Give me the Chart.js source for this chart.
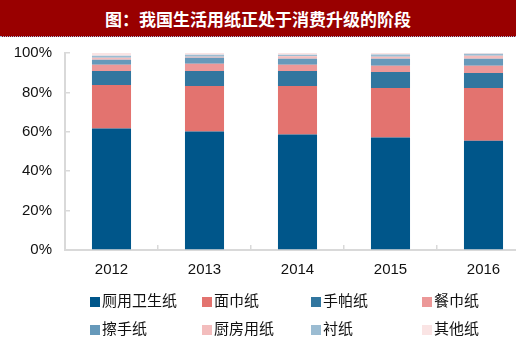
<!DOCTYPE html>
<html>
<head>
<meta charset="utf-8">
<script src="https://cdn.jsdelivr.net/npm/chart.js@4"></script>
<style>
  html, body { margin: 0; padding: 0; background: #fff; overflow: hidden; }
  #wrap { position: relative; width: 516px; height: 342px; overflow: hidden; }
  #title {
    position: absolute; left: 0; top: 0; width: 516px; height: 36px;
    background: #990000; color: #fff; border-bottom: 1px dotted #9fb6dc;
    font: bold 17px "Noto Sans CJK SC", sans-serif; line-height: 37px; text-align: center;
  }
  #chart { position: absolute; left: 0; top: 0; }
  .lg { position: absolute; font: 15px "Noto Sans CJK SC", sans-serif; color: #111; line-height: 16px; white-space: nowrap; }
  .lg i { display: inline-block; width: 10px; height: 10px; margin-right: 2px; vertical-align: -1px; }
</style>
</head>
<body>
<div id="wrap">
  <canvas id="chart" width="540" height="342"></canvas>
  <div id="title">图：我国生活用纸正处于消费升级的阶段</div>
  <div id="legend"></div>
</div>
<script>
// 年份
const years = ['2012', '2013', '2014', '2015', '2016'];
// 各品类占比 (%)
const names = ['厕用卫生纸', '面巾纸', '手帕纸', '餐巾纸', '擦手纸', '厨房用纸', '衬纸', '其他纸'];
const toilet = [61.7, 60.1, 58.6, 57.1, 55.5];
const facial = [22.0, 23.1, 24.6, 25.1, 26.7];
const hanky = [7.2, 7.7, 7.7, 8.2, 7.7];
const napkin = [3.1, 3.6, 3.1, 3.1, 3.6];
const handTowel = [2.6, 3.1, 3.1, 3.6, 3.6];
const kitchen = [1.0, 0.5, 1.2, 1.0, 1.5];
const liner = [1.0, 1.0, 0.8, 1.2, 1.0];
const other = [1.4, 0.9, 0.9, 0.7, 0.4];
const colors = ['#00568a', '#e3736f', '#31769f', '#ec9898', '#6699ba', '#f3bdbd', '#9bbcd2', '#fae4e4'];
const yTicks = [0, 20, 40, 60, 80, 100];

const series = [toilet, facial, hanky, napkin, handTowel, kitchen, liner, other];
const axisColor = '#d9d9d9';

new Chart(document.getElementById('chart').getContext('2d'), {
    type: 'bar',
    data: {
        labels: years,
        datasets: series.map((d, i) => ({
            label: names[i],
            data: d,
            backgroundColor: colors[i],
            borderWidth: 0,
            barPercentage: 0.42,
            categoryPercentage: 1
        }))
    },
    options: {
        responsive: false,
        animation: false,
        layout: { padding: { top: 53, left: 0, right: 10, bottom: 0 } },
        plugins: { legend: { display: false }, tooltip: { enabled: false } },
        scales: {
            x: {
                stacked: true,
                border: { color: axisColor, width: 2 },
                grid: { drawOnChartArea: false, color: axisColor, tickLength: -5, lineWidth: 1.5 },
                ticks: { color: '#111', padding: 16, font: { family: 'Liberation Sans, Arial', size: 15 } },
                afterFit: s => { s.height = 92; }
            },
            y: {
                stacked: true,
                min: 0, max: 100,
                afterBuildTicks: s => { s.ticks = yTicks.map(v => ({ value: v })); },
                border: { color: axisColor, width: 2 },
                grid: { drawOnChartArea: false, color: axisColor, tickLength: -5, lineWidth: 1.5 },
                ticks: { color: '#111', padding: 18, callback: v => v + '%', font: { family: 'Liberation Sans, Arial', size: 15 } },
                afterFit: s => { s.width = 65; }
            }
        }
    }
});

// 图例
const legendX = [90, 202, 311, 422];
const legendY = [292, 320];
const lg = document.getElementById('legend');
names.forEach((n, i) => {
    const el = document.createElement('div');
    el.className = 'lg';
    el.style.left = legendX[i % 4] + 'px';
    el.style.top = legendY[Math.floor(i / 4)] + 'px';
    el.innerHTML = '<i style="background:' + colors[i] + '"></i>' + n;
    lg.appendChild(el);
});
</script>
</body>
</html>
